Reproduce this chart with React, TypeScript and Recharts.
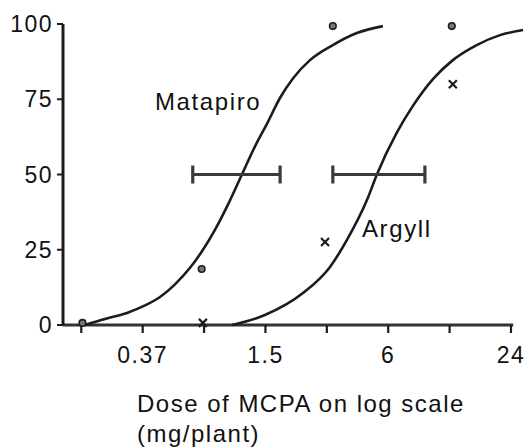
import React from "react";
import {
  ComposedChart,
  Line,
  Scatter,
  ErrorBar,
  XAxis,
  YAxis,
  ReferenceLine,
} from "recharts";

// dose (mg/plant) vs % plants killed
const matapiroCurveDose = [0.195, 0.245, 0.314, 0.385, 0.456, 0.54, 0.64, 0.741, 0.848, 0.982, 1.15, 1.348, 1.53, 1.77, 2.05, 2.48, 3.21, 4.21, 5.65];
const matapiroCurvePct = [0, 2, 4, 6.5, 9.3, 13.5, 19, 25, 31.6, 40, 50, 60, 67, 75.5, 82, 88, 93, 97, 99.3];

const argyllCurveDose = [1.03, 1.49, 2.29, 3.11, 3.76, 4.72, 5.28, 6.62, 7.93, 9.94, 12.45, 16.3, 21.2, 27.5];
const argyllCurvePct = [0, 3.3, 10.6, 19.3, 28.2, 41.5, 50, 64, 72.8, 81.7, 88, 93, 96.3, 98];

const matapiroObsDose = [0.19, 0.73, 3.21, 12.3];
const matapiroObsPct = [0.7, 18.6, 99.3, 99.3];

const argyllObsDose = [0.74, 2.94, 12.45];
const argyllObsPct = [0.7, 27.6, 80];

// ED50 with confidence interval (lower, upper dose)
const ed50Dose = [1.15, 5.28];
const ed50Low = [0.66, 3.21];
const ed50High = [1.77, 9.08];

const xTicks = [0.1875, 0.375, 0.75, 1.5, 3, 6, 12, 24];
const xTickLabels: Record<string, string> = { "0.375": "0.37", "1.5": "1.5", "6": "6", "24": "24" };
const yTicks = [0, 25, 50, 75, 100];

const zip = (dose: number[], pct: number[]) => dose.map((d, i) => ({ dose: d, pct: pct[i] }));

const matapiroCurve = zip(matapiroCurveDose, matapiroCurvePct);
const argyllCurve = zip(argyllCurveDose, argyllCurvePct);
const matapiroObs = zip(matapiroObsDose, matapiroObsPct);
const argyllObs = zip(argyllObsDose, argyllObsPct);
const ed50 = ed50Dose.map((d, i) => ({
  dose: d,
  pct: 50,
  err: [d - ed50Low[i], ed50High[i] - d],
}));

const INK = "#1c1c1c";
const FONT = "'Liberation Sans', Arial, sans-serif";

const DotMark = (p: any) => (
  <circle cx={p.cx} cy={p.cy} r={3.3} fill="#777" stroke={INK} strokeWidth={1.6} />
);

const CrossMark = (p: any) => (
  <g stroke={INK} strokeWidth={2.2}>
    <line x1={p.cx - 4} y1={p.cy - 4} x2={p.cx + 4} y2={p.cy + 4} />
    <line x1={p.cx + 4} y1={p.cy - 4} x2={p.cx - 4} y2={p.cy + 4} />
  </g>
);

const NoMark = () => <g />;

const tickStyle = { fill: "#111", fontSize: 23, fontFamily: FONT, letterSpacing: 1.5 };

export default function App() {
  return (
    <div style={{ position: "absolute", left: 0, top: 0, width: 527, height: 448, background: "#fff" }}>
      <ComposedChart
        width={527}
        height={448}
        margin={{ top: 24, right: 3, bottom: 83, left: 0 }}
      >
        <XAxis
          dataKey="dose"
          type="number"
          scale="log"
          domain={[0.1525, 27.8]}
          ticks={xTicks}
          tickFormatter={(v: number) => xTickLabels[String(v)] ?? ""}
          axisLine={false}
          tickLine={{ stroke: INK, strokeWidth: 2.2 }}
          tickSize={8}
          tickMargin={14}
          height={40}
          tick={tickStyle}
          interval={0}
        />
        <YAxis
          type="number"
          domain={[0, 100]}
          ticks={yTicks}
          width={63}
          axisLine={{ stroke: INK, strokeWidth: 3 }}
          tickLine={{ stroke: INK, strokeWidth: 2 }}
          tickSize={6}
          tickMargin={4}
          tick={tickStyle}
          interval={0}
        />
        <ReferenceLine
          segment={[{ x: 0.1525, y: 0 }, { x: 24.6, y: 0 }]}
          stroke="#333"
          strokeWidth={3}
        />
        <Line
          data={matapiroCurve}
          dataKey="pct"
          type="monotone"
          stroke={INK}
          strokeWidth={2.6}
          dot={false}
          isAnimationActive={false}
        />
        <Line
          data={argyllCurve}
          dataKey="pct"
          type="monotone"
          stroke={INK}
          strokeWidth={2.6}
          dot={false}
          isAnimationActive={false}
        />
        <Scatter data={ed50} dataKey="pct" shape={NoMark} isAnimationActive={false}>
          <ErrorBar dataKey="err" direction="x" width={9} stroke="#3a3a3a" strokeWidth={3.2} />
        </Scatter>
        <Scatter data={matapiroObs} dataKey="pct" shape={DotMark} isAnimationActive={false} />
        <Scatter data={argyllObs} dataKey="pct" shape={CrossMark} isAnimationActive={false} />
      </ComposedChart>

      <div style={{ position: "absolute", left: 155, top: 90, fontFamily: FONT, fontSize: 24, lineHeight: "24px", letterSpacing: 1.6, color: "#111" }}>
        Matapiro
      </div>
      <div style={{ position: "absolute", left: 362, top: 217, fontFamily: FONT, fontSize: 24, lineHeight: "24px", letterSpacing: 1.6, color: "#111" }}>
        Argyll
      </div>
      <div style={{ position: "absolute", left: 137, top: 389, fontFamily: FONT, fontSize: 24, lineHeight: "30px", letterSpacing: 1.5, color: "#111", whiteSpace: "nowrap" }}>
        Dose of MCPA on log scale
        <br />
        (mg/plant)
      </div>
    </div>
  );
}
